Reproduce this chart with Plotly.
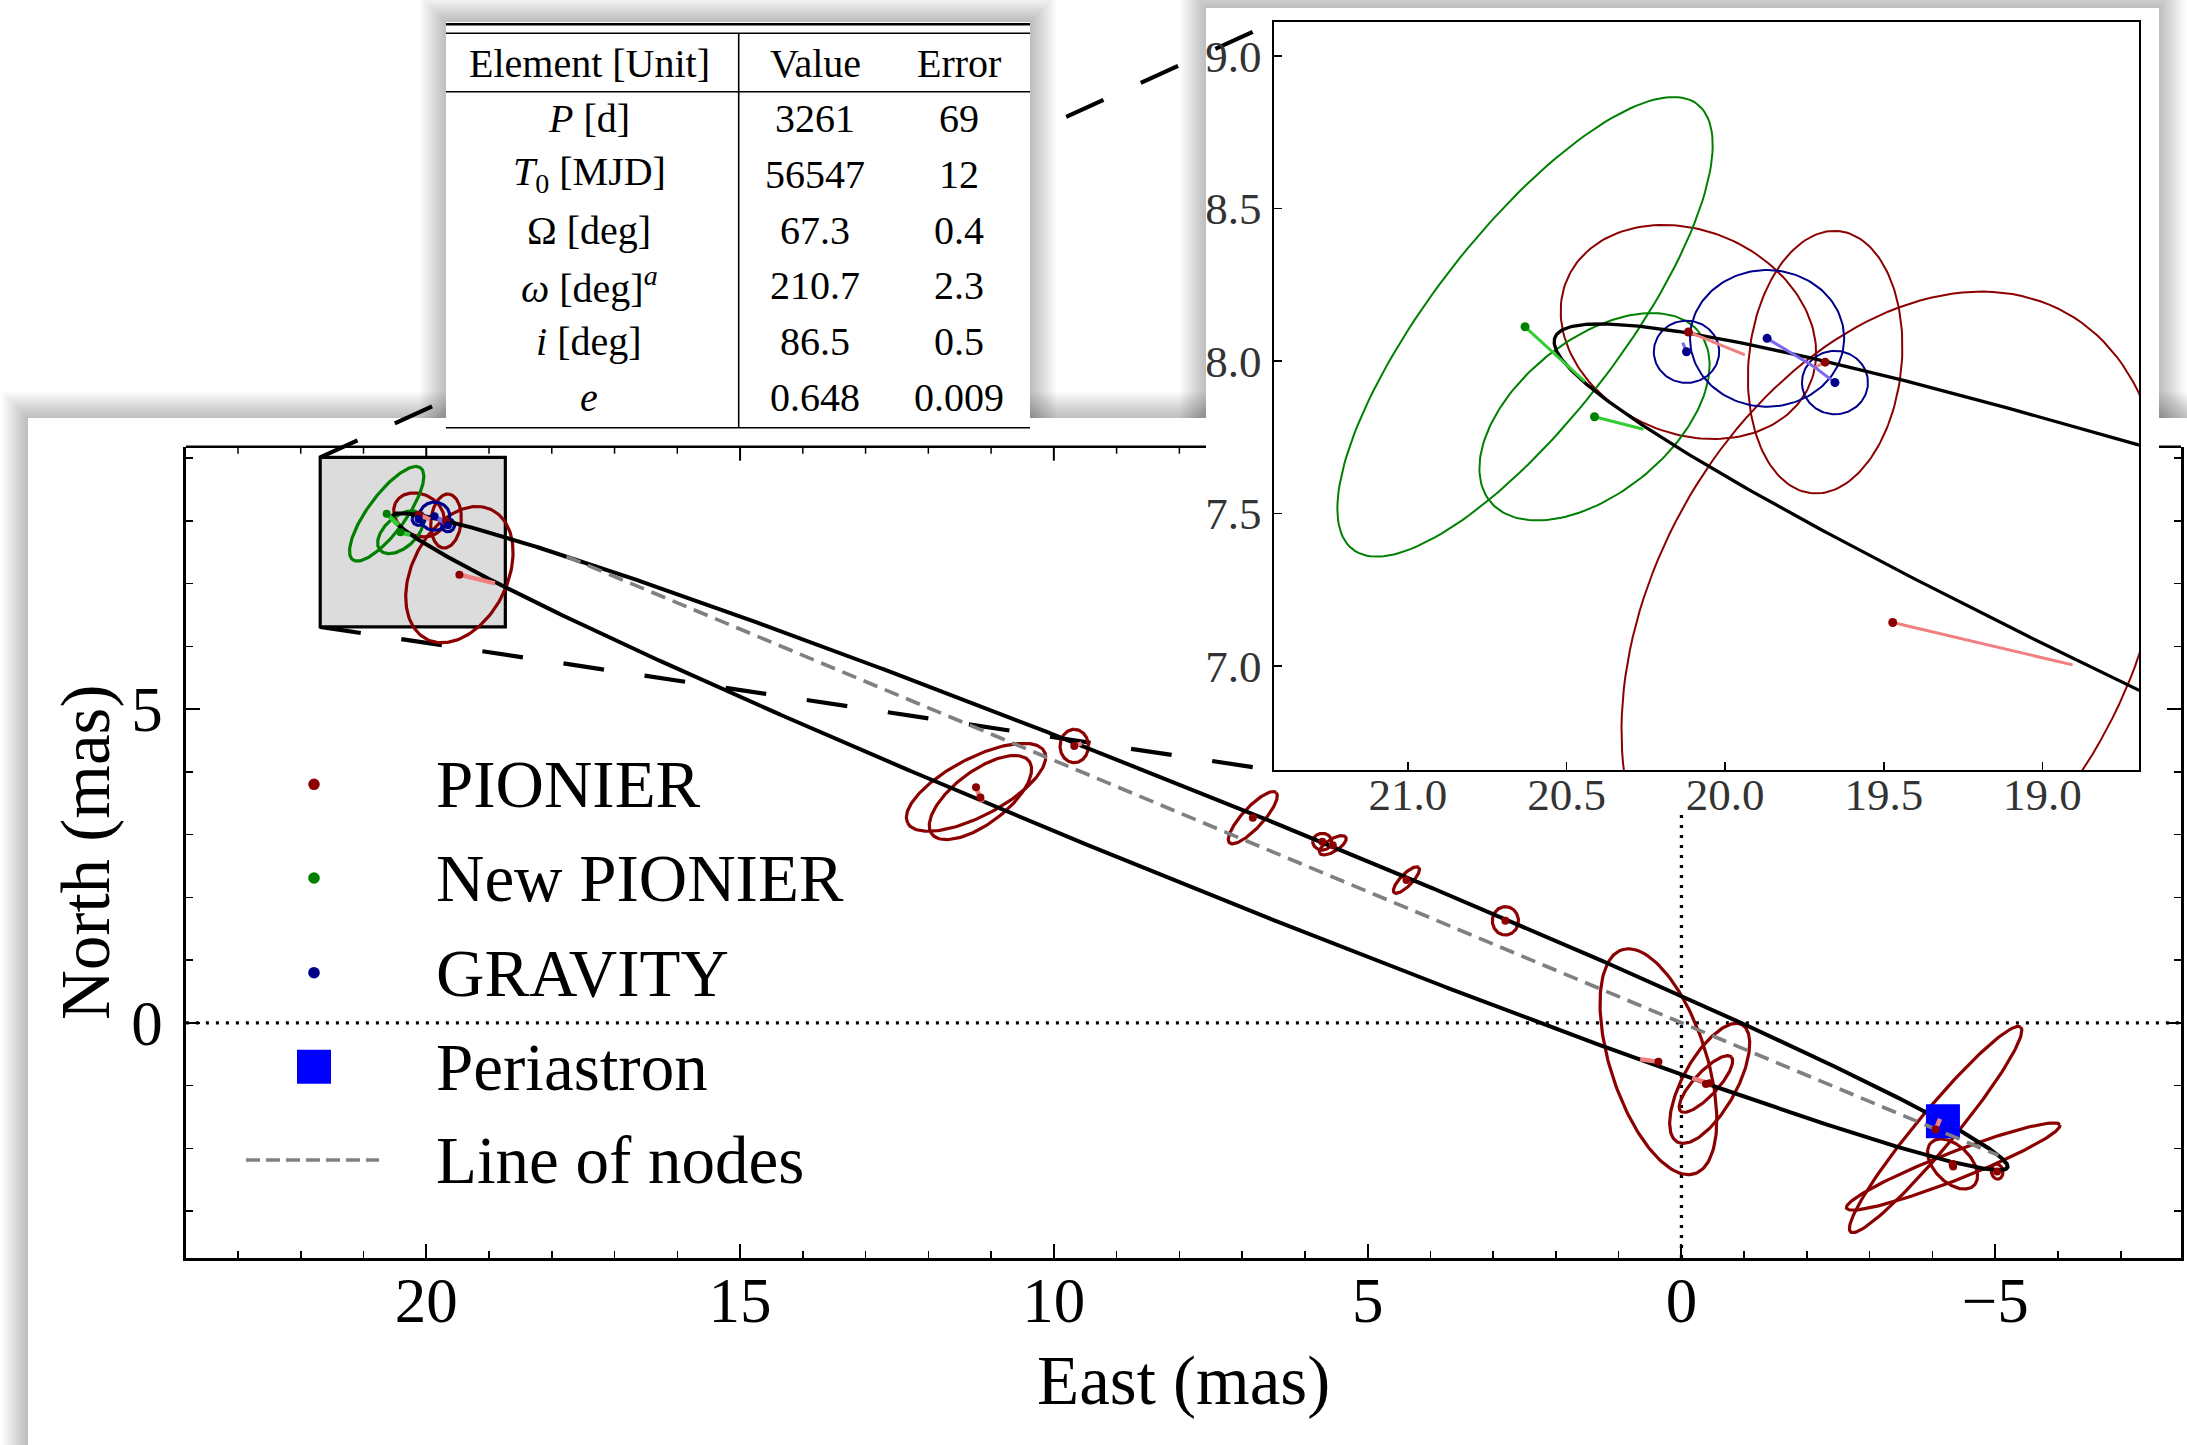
import numpy as np
import plotly.graph_objects as go

W, H = 2187, 1445
FONT = "Liberation Serif"

# ---------------- orbital elements (table) ----------------
element_labels = ["<i>P</i> [d]", "<i>T</i><sub>0</sub> [MJD]", "Ω [deg]",
                  "<i>ω</i> [deg]<sup><i>a</i></sup>", "<i>i</i> [deg]", "<i>e</i>"]
element_values = [3261, 56547, 67.3, 210.7, 86.5, 0.648]
element_errors = [69, 12, 0.4, 2.3, 0.5, 0.009]
table_header = ["Element [Unit]", "Value", "Error"]
semi_major_mas = 14.7   # estimated angular semi-major axis

# ---------------- astrometry ----------------
pionier_east = [20.116, 19.685, 19.472, 11.24, 11.17, 9.675, 6.83, 5.723, 5.555,
                4.382, 2.805, 0.367, -0.45, -0.39, -4.05, -4.33, -4.32, -5.03]
pionier_north = [8.095, 7.996, 7.142, 3.753, 3.59, 4.411, 3.269, 2.886, 2.829,
                 2.276, 1.625, -0.62, -0.965, -0.975, -1.70, -2.29, -2.25, -2.37]
pionier_model_east = [19.938, 19.722, 18.905, 11.149, 11.13, 9.555, 6.85, 5.70, 5.53,
                      4.36, 2.78, 0.658, -0.17, -0.30, -4.12, -4.30, -4.28, -5.06]
pionier_model_north = [8.020, 7.976, 7.003, 3.523, 3.52, 4.455, 3.30, 2.88, 2.81,
                       2.29, 1.63, -0.582, -0.88, -0.93, -1.53, -2.22, -2.21, -2.34]
pionier_err_major = [0.420, 0.432, 1.154, 1.229, 0.968, 0.266, 0.547, 0.152, 0.244,
                     0.281, 0.226, 1.876, 1.067, 0.591, 2.121, 1.825, 0.483, 0.122]
pionier_err_minor = [0.330, 0.241, 0.760, 0.461, 0.420, 0.226, 0.165, 0.133, 0.099,
                     0.095, 0.208, 0.766, 0.427, 0.190, 0.300, 0.220, 0.290, 0.092]
pionier_err_angle = [27.4, 95.6, 116.8, -27.6, -36.8, 90, 132.7, 0, -32,
                     134.3, 90, 72.05, 118.95, 132.9, 129.66, 158.66, 45, 80]

newpio_east = [20.631, 20.412]
newpio_north = [8.112, 7.817]
newpio_model_east = [20.442, 20.258]
newpio_model_north = [7.932, 7.776]
newpio_err_major = [0.91, 0.431]
newpio_err_minor = [0.30, 0.248]
newpio_err_angle = [126.4, 138.7]

gravity_east = [20.122, 19.868, 19.654]
gravity_north = [8.030, 8.074, 7.929]
gravity_model_east = [20.134, 19.717, 19.717]
gravity_model_north = [8.060, 7.979, 7.979]
gravity_err_major = [0.103, 0.243, 0.104]
gravity_err_minor = [0.102, 0.224, 0.104]
gravity_err_angle = [0, 0, 0]

legend_labels = ["PIONIER", "New PIONIER", "GRAVITY", "Periastron", "Line of nodes"]
zoom_box_east = [18.74, 21.69]
zoom_box_north = [6.31, 9.01]

# ---------------- colours ----------------
C_PIO, C_NEW, C_GRAV = "#8b0000", "#008000", "#00008b"
L_PIO, L_NEW, L_GRAV = "#f08080", "#32cd32", "#7b68ee"

# ---------------- layout geometry ----------------
MX_DOM = [185.9 / W, 2181 / W]
MY_DOM = [1 - 1258 / H, 1 - 446.7 / H]
MX_RANGE = [23.83, -7.96]
MY_RANGE = [-3.748, 9.181]
IX_DOM = [1274.4 / W, 2138.9 / W]
IY_DOM = [1 - 770.4 / H, 1 - 21.9 / H]
IX_RANGE = [21.421, 18.696]
IY_RANGE = [6.657, 9.112]

MAIN_PANEL = (28, 418, W + 60, H + 60)
INSET_PANEL = (1206, 8, 2159, 815)
TABLE_PANEL = (446, 22, 1030, 440)


def px(x):
    return x / W


def py(y):
    return 1 - y / H


def mx2paper(v):
    return MX_DOM[0] + (v - MX_RANGE[0]) / (MX_RANGE[1] - MX_RANGE[0]) * (MX_DOM[1] - MX_DOM[0])


def my2paper(v):
    return MY_DOM[0] + (v - MY_RANGE[0]) / (MY_RANGE[1] - MY_RANGE[0]) * (MY_DOM[1] - MY_DOM[0])


def paper2my(p):
    return MY_RANGE[0] + (p - MY_DOM[0]) / (MY_DOM[1] - MY_DOM[0]) * (MY_RANGE[1] - MY_RANGE[0])


# ---------------- orbit from elements ----------------
Om = np.radians(element_values[2])
w = np.radians(element_values[3])
inc = np.radians(element_values[4])
ecc = element_values[5]
a = semi_major_mas
A = a * (np.cos(w) * np.cos(Om) - np.sin(w) * np.sin(Om) * np.cos(inc))
B = a * (np.cos(w) * np.sin(Om) + np.sin(w) * np.cos(Om) * np.cos(inc))
F = a * (-np.sin(w) * np.cos(Om) - np.cos(w) * np.sin(Om) * np.cos(inc))
G = a * (-np.sin(w) * np.sin(Om) + np.cos(w) * np.cos(Om) * np.cos(inc))
Ean = np.linspace(0, 2 * np.pi, 1441)
Xo = np.cos(Ean) - ecc
Yo = np.sqrt(1 - ecc ** 2) * np.sin(Ean)
orbit_east = B * Xo + G * Yo
orbit_north = A * Xo + F * Yo
peri_east = [B * (1 - ecc)]
peri_north = [A * (1 - ecc)]
nu_asc, nu_desc = -w, np.pi - w
r_asc = a * (1 - ecc ** 2) / (1 + ecc * np.cos(nu_asc))
r_desc = a * (1 - ecc ** 2) / (1 + ecc * np.cos(nu_desc))
nodes_east = [r_asc * np.sin(Om), -r_desc * np.sin(Om)]
nodes_north = [r_asc * np.cos(Om), -r_desc * np.cos(Om)]


def ellipses(cx, cy, maj, mino, ang):
    xs, ys = [], []
    t = np.linspace(0, 2 * np.pi, 160)
    for x0, y0, aa, bb, th in zip(cx, cy, maj, mino, ang):
        th = np.radians(th)
        xs += list(x0 + aa * np.cos(t) * np.cos(th) - bb * np.sin(t) * np.sin(th)) + [None]
        ys += list(y0 + aa * np.cos(t) * np.sin(th) + bb * np.sin(t) * np.cos(th)) + [None]
    return xs, ys


def segments(x0s, y0s, x1s, y1s):
    xs, ys = [], []
    for x0, y0, x1, y1 in zip(x0s, y0s, x1s, y1s):
        xs += [x0, x1, None]
        ys += [y0, y1, None]
    return xs, ys


sets = [
    (pionier_east, pionier_north, pionier_model_east, pionier_model_north,
     pionier_err_major, pionier_err_minor, pionier_err_angle, C_PIO, L_PIO),
    (newpio_east, newpio_north, newpio_model_east, newpio_model_north,
     newpio_err_major, newpio_err_minor, newpio_err_angle, C_NEW, L_NEW),
    (gravity_east, gravity_north, gravity_model_east, gravity_model_north,
     gravity_err_major, gravity_err_minor, gravity_err_angle, C_GRAV, L_GRAV),
]

fig = go.Figure()

# ---- main panel traces ----
fig.add_trace(go.Scatter(x=MX_RANGE, y=[0, 0], mode="lines",
                         line=dict(color="black", width=3.3, dash="3px,7px"),
                         xaxis="x", yaxis="y", hoverinfo="skip"))
fig.add_trace(go.Scatter(x=[0, 0], y=[MY_RANGE[0], paper2my(py(INSET_PANEL[3]))], mode="lines",
                         line=dict(color="black", width=3.3, dash="3px,7px"),
                         xaxis="x", yaxis="y", hoverinfo="skip"))


def add_data(xa, ya, ell_w, orbit_w, seg_w, msize, with_extras):
    for e_, n_, me, mn, mj, mi, an, col, lcol in sets:
        ex, ey = ellipses(e_, n_, mj, mi, an)
        fig.add_trace(go.Scatter(x=ex, y=ey, mode="lines", line=dict(color=col, width=ell_w),
                                 xaxis=xa, yaxis=ya, hoverinfo="skip"))
    fig.add_trace(go.Scatter(x=orbit_east, y=orbit_north, mode="lines",
                             line=dict(color="black", width=orbit_w),
                             xaxis=xa, yaxis=ya, hoverinfo="skip"))
    if with_extras:
        fig.add_trace(go.Scatter(x=peri_east, y=peri_north, mode="markers",
                                 marker=dict(symbol="square", size=34, color="#0000ff", line=dict(width=0)),
                                 xaxis=xa, yaxis=ya, hoverinfo="skip"))
        fig.add_trace(go.Scatter(x=nodes_east, y=nodes_north, mode="lines",
                                 line=dict(color="#808080", width=3.6, dash="15px,8px"),
                                 xaxis=xa, yaxis=ya, hoverinfo="skip"))
    for e_, n_, me, mn, mj, mi, an, col, lcol in sets:
        sx, sy = segments(e_, n_, me, mn)
        fig.add_trace(go.Scatter(x=sx, y=sy, mode="lines", line=dict(color=lcol, width=seg_w),
                                 xaxis=xa, yaxis=ya, hoverinfo="skip"))
    for e_, n_, me, mn, mj, mi, an, col, lcol in sets:
        fig.add_trace(go.Scatter(x=e_, y=n_, mode="markers",
                                 marker=dict(size=msize, color=col, line=dict(width=0)),
                                 xaxis=xa, yaxis=ya, hoverinfo="skip"))


add_data("x", "y", 3.2, 4.0, 4.5, 8, True)
add_data("x2", "y2", 2.0, 3.3, 3.0, 9, False)

# ---------------- shapes ----------------
shapes = []


def rect(x0, y0, x1, y1, fill, layer="below", lw=0, lc="black"):
    shapes.append(dict(type="rect", xref="paper", yref="paper", x0=px(x0), x1=px(x1),
                       y0=py(y1), y1=py(y0), fillcolor=fill, layer=layer,
                       line=dict(width=lw, color=lc)))


def pline(x0, y0, x1, y1, color="black", width=2, dash="solid", layer="below"):
    shapes.append(dict(type="line", xref="paper", yref="paper", x0=px(x0), x1=px(x1),
                       y0=py(y0), y1=py(y1), layer=layer,
                       line=dict(color=color, width=width, dash=dash)))


def shadow(x0, y0, x1, y1, spread=26, steps=13, alpha=0.019):
    for k in range(steps, 0, -1):
        d = spread * k / steps
        rect(x0 - d, y0 - d, x1 + d, y1 + d, "rgba(0,0,0,%.3f)" % alpha)


for p in (MAIN_PANEL, INSET_PANEL, TABLE_PANEL):
    shadow(*p)
rect(*MAIN_PANEL, "white")

# main top spine + inward top ticks (hidden by inset panel where overlapped)
top_y = MY_DOM[1]
shapes.append(dict(type="line", xref="paper", yref="paper", x0=MX_DOM[0], x1=MX_DOM[1],
                   y0=top_y, y1=top_y, layer="below", line=dict(color="black", width=2.5)))
for v in range(-7, 24):
    ln = 14 if v % 5 == 0 else 7
    wd = 2 if v % 5 == 0 else 1.5
    shapes.append(dict(type="line", xref="paper", yref="paper", x0=mx2paper(v), x1=mx2paper(v),
                       y0=top_y, y1=top_y - ln / H, layer="below", line=dict(color="black", width=wd)))

rect(*INSET_PANEL, "white")

# connector lines from zoom box to inset axes
bx = mx2paper(zoom_box_east[1])
for yb, yi in ((my2paper(zoom_box_north[1]), IY_DOM[1]), (my2paper(zoom_box_north[0]), IY_DOM[0])):
    shapes.append(dict(type="line", xref="paper", yref="paper", x0=bx, y0=yb, x1=IX_DOM[0], y1=yi,
                       layer="below", line=dict(color="black", width=4.2, dash="41px,41px")))

# table
rect(*TABLE_PANEL, "white")
tx0, tx1 = 446, 1030
pline(tx0, 24.3, tx1, 24.3, width=2.6)
pline(tx0, 33.3, tx1, 33.3, width=1.6)
pline(tx0, 91.7, tx1, 91.7, width=1.6)
pline(tx0, 427.7, tx1, 427.7, width=1.6)
pline(738.7, 33.3, 738.7, 427.7, width=1.6)

# zoom box on main axes
shapes.append(dict(type="rect", xref="x", yref="y", x0=zoom_box_east[0], x1=zoom_box_east[1],
                   y0=zoom_box_north[0], y1=zoom_box_north[1], fillcolor="#dcdcdc",
                   layer="below", line=dict(color="black", width=3.2)))

# legend symbols
leg_x, leg_text_x = 314, 434
leg_y = [784.3, 878.0, 972.7, 1066.7, 1160.0]
for col, yy in zip([C_PIO, C_NEW, C_GRAV], leg_y[:3]):
    r = 5.8
    shapes.append(dict(type="circle", xref="paper", yref="paper", x0=px(leg_x - r), x1=px(leg_x + r),
                       y0=py(yy + r), y1=py(yy - r), fillcolor=col, line=dict(width=0), layer="above"))
rect(leg_x - 17, leg_y[3] - 17, leg_x + 17, leg_y[3] + 17, "#0000ff", layer="above")
pline(246, leg_y[4], 379, leg_y[4], color="#808080", width=3.6, dash="14px,6px", layer="above")

# ---------------- annotations ----------------
ann = []


def text(x, y, s, size, xanchor="center", color="black", angle=0):
    ann.append(dict(x=px(x), y=py(y), xref="paper", yref="paper", text=s, showarrow=False,
                    xanchor=xanchor, yanchor="middle", textangle=angle,
                    font=dict(family=FONT, size=size, color=color)))


for s, yy in zip(legend_labels, leg_y):
    text(leg_text_x, yy, s, 67, xanchor="left")

text(1183.5, 1381, "East (mas)", 69)
text(86.5, 852.4, "North (mas)", 69, angle=-90)

col_x = [589, 815, 959]
for s, cx in zip(table_header, col_x):
    text(cx, 63, s, 40)
row_y0, row_dy = 118.5, 55.8
for k, (lab, val, err) in enumerate(zip(element_labels, element_values, element_errors)):
    yy = row_y0 + k * row_dy
    text(col_x[0], yy, lab, 40)
    text(col_x[1], yy, f"{val:g}", 40)
    text(col_x[2], yy, f"{err:g}", 40)

# ---------------- layout ----------------
main_ax = dict(showline=True, linecolor="black", linewidth=2.5, ticks="inside", ticklen=14,
               tickwidth=2, tickcolor="black", showgrid=False, zeroline=False,
               tickfont=dict(family=FONT, size=63, color="black"),
               minor=dict(ticks="inside", ticklen=7, tickwidth=1.5, tickcolor="black", dtick=1, tick0=0,
                          showgrid=False),
               dtick=5, tick0=0, fixedrange=True)
inset_ax = dict(showline=True, linecolor="black", linewidth=2, mirror=True, ticks="inside", ticklen=8,
                tickwidth=1.5, tickcolor="black", showgrid=False, zeroline=False,
                tickfont=dict(family=FONT, size=45, color="#333333"), dtick=0.5, tickformat=".1f",
                fixedrange=True)

fig.update_layout(
    width=W, height=H, margin=dict(l=0, r=0, t=0, b=0),
    paper_bgcolor="white", plot_bgcolor="rgba(0,0,0,0)", showlegend=False,
    xaxis=dict(main_ax, domain=MX_DOM, range=MX_RANGE, anchor="y", ticklabelstandoff=-14),
    yaxis=dict(main_ax, domain=MY_DOM, range=MY_RANGE, anchor="x", mirror="ticks", ticklabelstandoff=8),
    xaxis2=dict(inset_ax, domain=IX_DOM, range=IX_RANGE, anchor="y2", ticklabelstandoff=-16),
    yaxis2=dict(inset_ax, domain=IY_DOM, range=IY_RANGE, anchor="x2", ticklabelstandoff=2),
    shapes=shapes, annotations=ann,
)

fig.write_html("out.html", config={"displayModeBar": False, "staticPlot": True},
               post_script="document.body.style.margin='0px';document.body.style.overflow='hidden';")
